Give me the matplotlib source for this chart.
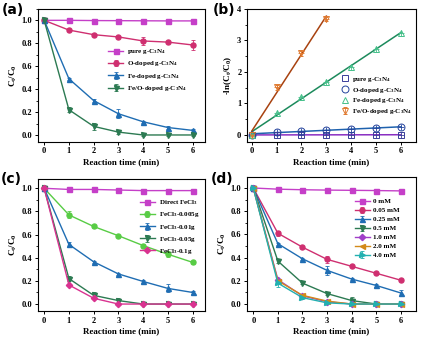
import numpy as np
import matplotlib
matplotlib.use("Agg")
import matplotlib.pyplot as plt
from matplotlib.ticker import MultipleLocator, AutoMinorLocator

plt.rcParams["font.family"] = ["Liberation Serif", "DejaVu Serif"]
plt.rcParams["font.weight"] = "bold"
plt.rcParams["mathtext.fontset"] = "custom"
plt.rcParams["mathtext.rm"] = "Liberation Serif:bold"
plt.rcParams["mathtext.it"] = "Liberation Serif:bold"
plt.rcParams["mathtext.bf"] = "Liberation Serif:bold"

time = [0, 1, 2, 3, 4, 5, 6]

# (a) catalysts
a_labels = ["pure g-C$_3$N$_4$", "O-doped g-C$_3$N$_4$",
            "Fe-doped g-C$_3$N$_4$", "Fe/O-doped g-C$_3$N$_4$"]
a_pure = [1.0, 1.0, 0.998, 0.997, 0.996, 0.995, 0.995]
a_o = [1.0, 0.915, 0.875, 0.855, 0.82, 0.81, 0.785]
a_fe = [1.0, 0.49, 0.30, 0.185, 0.115, 0.065, 0.04]
a_feo = [1.0, 0.22, 0.075, 0.025, 0.0, 0.0, 0.0]
a_err_o = [0, 0, 0, 0, 0.035, 0, 0.04]
a_err_fe = [0, 0.01, 0.015, 0.04, 0.01, 0.01, 0.01]
a_err_feo = [0, 0.02, 0.03, 0.02, 0.01, 0.005, 0.005]

# (b) pseudo-first-order kinetics
b_time_feo = [0, 1, 2, 3]
b_pure = [0.0, 0.0, 0.002, 0.003, 0.004, 0.005, 0.005]
b_o = [0.0, 0.089, 0.134, 0.157, 0.198, 0.21, 0.242]
b_fe = [0.0, 0.71, 1.20, 1.69, 2.17, 2.73, 3.22]
b_feo = [0.0, 1.51, 2.59, 3.69]
b_err_feo = [0, 0.08, 0.08, 0.06]

# (c) FeCl3 dosage
c_labels = ["Direct FeCl$_3$", "FeCl$_3$-0.005g", "FeCl$_3$-0.01g",
            "FeCl$_3$-0.05g", "FeCl$_3$-0.1g"]
c_direct = [1.0, 0.99, 0.99, 0.985, 0.98, 0.98, 0.98]
c_0005 = [1.0, 0.77, 0.67, 0.59, 0.505, 0.43, 0.36]
c_001 = [1.0, 0.515, 0.365, 0.26, 0.195, 0.135, 0.10]
c_005 = [1.0, 0.22, 0.075, 0.03, 0.0, 0.0, 0.0]
c_01 = [1.0, 0.165, 0.05, 0.0, 0.0, 0.0, 0.0]
c_err_0005 = [0, 0.03, 0.01, 0.01, 0.01, 0.025, 0.01]
c_err_001 = [0, 0.02, 0.01, 0.01, 0.01, 0.035, 0.01]
c_err_005 = [0, 0.02, 0.03, 0.02, 0.01, 0, 0]

# (d) concentration
d_labels = ["0 mM", "0.05 mM", "0.25 mM", "0.5 mM", "1.0 mM", "2.0 mM", "4.0 mM"]
d_0 = [1.0, 0.99, 0.985, 0.982, 0.98, 0.978, 0.975]
d_005 = [1.0, 0.61, 0.49, 0.385, 0.325, 0.265, 0.205]
d_025 = [1.0, 0.52, 0.39, 0.29, 0.215, 0.16, 0.095]
d_05 = [1.0, 0.37, 0.18, 0.09, 0.03, 0.0, 0.0]
d_1 = [1.0, 0.21, 0.07, 0.02, 0.0, 0.0, 0.0]
d_2 = [1.0, 0.20, 0.075, 0.025, 0.0, 0.0, 0.0]
d_4 = [1.0, 0.18, 0.055, 0.01, 0.0, 0.0, 0.0]
d_err_005 = [0, 0.02, 0.01, 0.03, 0.01, 0.01, 0.01]
d_err_025 = [0, 0.01, 0.01, 0.04, 0.01, 0.01, 0.03]
d_err_05 = [0, 0.02, 0.01, 0.01, 0.03, 0.01, 0]
d_err_4 = [0, 0.03, 0.01, 0.01, 0.01, 0, 0]

PURPLE = "#c53fc8"
CRIMSON = "#cf2f70"
BLUE = "#1f6db3"
DKGREEN = "#2c7a52"
LTGREEN = "#58cc45"
PINK = "#d93390"
VIOLET = "#a040c8"
ORANGE = "#d38a1a"
CYAN = "#22b0b0"

fig = plt.figure(figsize=(4.22, 3.41), dpi=100)
ax_a = fig.add_axes([0.090, 0.584, 0.396, 0.390])
ax_b = fig.add_axes([0.585, 0.584, 0.400, 0.390])
ax_c = fig.add_axes([0.090, 0.088, 0.396, 0.387])
ax_d = fig.add_axes([0.585, 0.088, 0.400, 0.393])

TICK_FS = 6
LAB_FS = 6.5
LEG_FS = 5


def style(ax, ylabel):
    ax.tick_params(direction="out", length=2.5, width=0.7, labelsize=TICK_FS, pad=1.5)
    ax.tick_params(which="minor", direction="out", length=1.5, width=0.6)
    ax.xaxis.set_major_locator(MultipleLocator(1))
    ax.yaxis.set_minor_locator(AutoMinorLocator(2))
    for s in ax.spines.values():
        s.set_linewidth(0.8)
    ax.set_xlabel("Reaction time (min)", fontsize=LAB_FS, fontweight="bold", labelpad=2)
    ax.set_ylabel(ylabel, fontsize=LAB_FS, fontweight="bold", labelpad=2)


def curve(ax, y, color, marker, label, err=None, ms=3.6):
    ax.errorbar(time[:len(y)], y, yerr=err, color=color, marker=marker, ms=ms,
                mfc=color, mec=color, lw=1.0, elinewidth=0.6, capsize=1.5,
                capthick=0.6, label=label)


def legend(ax, anchor, spacing, hl=2.2):
    ax.legend(loc="upper left", bbox_to_anchor=anchor, frameon=False,
              fontsize=LEG_FS, handlelength=hl, labelspacing=spacing,
              borderpad=0.2, handletextpad=0.5)


# (a)
curve(ax_a, a_pure, PURPLE, "s", a_labels[0])
curve(ax_a, a_o, CRIMSON, "o", a_labels[1], a_err_o)
curve(ax_a, a_fe, BLUE, "^", a_labels[2], a_err_fe)
curve(ax_a, a_feo, DKGREEN, "v", a_labels[3], a_err_feo)
ax_a.set_xlim(-0.25, 6.5)
ax_a.set_ylim(-0.06, 1.1)
ax_a.yaxis.set_major_locator(MultipleLocator(0.2))
style(ax_a, "C$_t$/C$_0$")
legend(ax_a, (0.39, 0.75), 0.5)

# (b) linear fits of -ln(Ct/C0)
b_sets = [
    (time, b_pure, "#3b3f9a", "#8a2fc2", "s", a_labels[0], None),
    (time, b_o, "#24439c", "#1f62ae", "o", a_labels[1], None),
    (time, b_fe, "#45c08a", "#1c8a5c", "^", a_labels[2], None),
    (b_time_feo, b_feo, "#e07a30", "#a84210", "v", a_labels[3], b_err_feo),
]
for x, y, mcol, lcol, mk, lab, err in b_sets:
    k, b0 = np.polyfit(x, y, 1)
    xs = np.array([x[0], x[-1]])
    ax_b.plot(xs, k * xs + b0, color=lcol, lw=1.1, zorder=2)
    ax_b.errorbar(x, y, yerr=err, ls="none", marker=mk, ms=5, mfc="none",
                  mec=mcol, mew=0.7, ecolor=mcol, elinewidth=0.6, capsize=1.5,
                  capthick=0.6, zorder=3, label=lab)
    ax_b.plot(x, y, ls="none", marker="+", ms=5, mec=mcol, mew=0.6, zorder=3)
ax_b.set_xlim(-0.2, 6.6)
ax_b.set_ylim(-0.22, 4)
ax_b.yaxis.set_major_locator(MultipleLocator(1))
style(ax_b, "-ln(C$_t$/C$_0$)")
legend(ax_b, (0.53, 0.54), 0.25, hl=1.0)

# (c)
curve(ax_c, c_direct, PURPLE, "s", c_labels[0])
curve(ax_c, c_0005, LTGREEN, "o", c_labels[1], c_err_0005)
curve(ax_c, c_001, BLUE, "^", c_labels[2], c_err_001)
curve(ax_c, c_005, DKGREEN, "v", c_labels[3], c_err_005)
curve(ax_c, c_01, PINK, "D", c_labels[4], ms=3.2)
ax_c.set_xlim(-0.25, 6.5)
ax_c.set_ylim(-0.06, 1.08)
ax_c.yaxis.set_major_locator(MultipleLocator(0.2))
style(ax_c, "C$_t$/C$_0$")
legend(ax_c, (0.58, 0.89), 0.45)

# (d)
curve(ax_d, d_0, PURPLE, "s", d_labels[0])
curve(ax_d, d_005, CRIMSON, "o", d_labels[1], d_err_005)
curve(ax_d, d_025, BLUE, "^", d_labels[2], d_err_025)
curve(ax_d, d_05, DKGREEN, "v", d_labels[3], d_err_05)
curve(ax_d, d_1, VIOLET, "D", d_labels[4], ms=3.2)
curve(ax_d, d_2, ORANGE, "<", d_labels[5])
curve(ax_d, d_4, CYAN, ">", d_labels[6], d_err_4)
ax_d.set_xlim(-0.26, 6.6)
ax_d.set_ylim(-0.06, 1.095)
ax_d.yaxis.set_major_locator(MultipleLocator(0.2))
style(ax_d, "C$_t$/C$_0$")
legend(ax_d, (0.61, 0.875), 0.45)

# panel letters
for txt, x, y in [("(a)", 0.005, 0.99), ("(b)", 0.505, 0.99),
                  ("(c)", 0.002, 0.497), ("(d)", 0.500, 0.497)]:
    fig.text(x, y, txt, fontsize=10, fontweight="bold", family="DejaVu Sans",
             va="top", ha="left")

fig.savefig("out.png", dpi=100)
